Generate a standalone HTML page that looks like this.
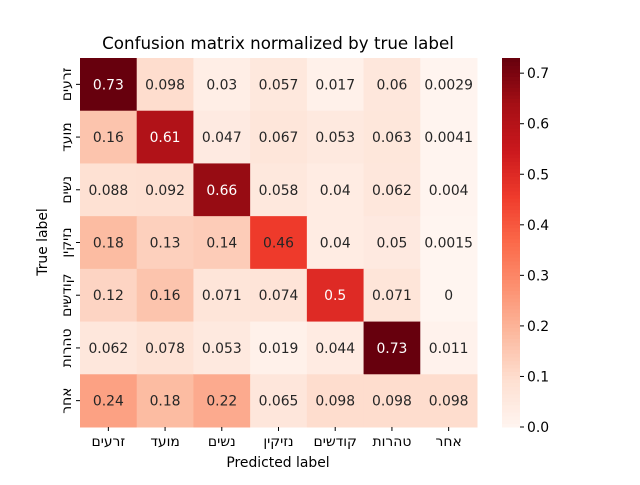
<!DOCTYPE html>
<html><head><meta charset="utf-8"><style>
body{margin:0;background:#fff}
svg text{font-family:"DejaVu Sans","Liberation Sans",sans-serif;font-size:13.9px;fill:#262626}
</style></head><body>
<svg id="chart" width="640" height="480" xmlns="http://www.w3.org/2000/svg">
<rect width="640" height="480" fill="#fff"/>
<text x="278" y="49" text-anchor="middle" style="font-size:16.7px;fill:#000">Confusion matrix normalized by true label</text>
<g id="cells"></g><g id="xt"></g><g id="yt"></g><g id="cb"></g>
<text x="278" y="467" text-anchor="middle" style="fill:#000">Predicted label</text>
<text transform="translate(47,242) rotate(-90)" text-anchor="middle" style="fill:#000">True label</text>
</svg>
<script>
const labels=["זרעים","מועד","נשים","נזיקין","קודשים","טהרות","אחר"];
const row0=[0.73,0.098,0.03,0.057,0.017,0.06,0.0029];
const row1=[0.16,0.61,0.047,0.067,0.053,0.063,0.0041];
const row2=[0.088,0.092,0.66,0.058,0.04,0.062,0.004];
const row3=[0.18,0.13,0.14,0.46,0.04,0.05,0.0015];
const row4=[0.12,0.16,0.071,0.074,0.5,0.071,0];
const row5=[0.062,0.078,0.053,0.019,0.044,0.73,0.011];
const row6=[0.24,0.18,0.22,0.065,0.098,0.098,0.098];
const matrix=[row0,row1,row2,row3,row4,row5,row6];
const cbTicks=[0,0.1,0.2,0.3,0.4,0.5,0.6,0.7];
const NS="http://www.w3.org/2000/svg";
const L=80,R=477,T=58,B=427,n=labels.length;
const cw=(R-L)/n,ch=(B-T)/n;
const vmax=Math.max(...matrix.flat()),vmin=0;
const stops=["#fff5f0","#fee0d2","#fcbba1","#fc9272","#fb6a4a","#ef3b2c","#cb181d","#a50f15","#67000d"].map(h=>[1,3,5].map(i=>parseInt(h.substr(i,2),16)));
function cmap(v){let t=Math.max(0,Math.min(1,(v-vmin)/(vmax-vmin)))*(stops.length-1);let i=Math.min(Math.floor(t),stops.length-2),f=t-i;
 return stops[i].map((a,k)=>Math.round(a+(stops[i+1][k]-a)*f));}
function rgb(c){return `rgb(${c[0]},${c[1]},${c[2]})`}
function mk(tag,attrs,parent){const e=document.createElementNS(NS,tag);for(const k in attrs)e.setAttribute(k,attrs[k]);parent.appendChild(e);return e;}
const xs=i=>L+i*cw, ys=j=>T+j*ch;
const cells=document.getElementById('cells');
matrix.forEach((row,j)=>row.forEach((v,i)=>{
 const c=cmap(v);
 const r=mk('rect',{x:xs(i),y:ys(j),width:cw+0.5,height:ch+0.5,fill:rgb(c)},cells);
 
 
 const lum=(0.299*c[0]+0.587*c[1]+0.114*c[2])/255;
 const t=mk('text',{x:xs(i)+cw/2,y:ys(j)+ch/2+5,'text-anchor':'middle'},cells);
 
 
 if(lum<0.408)t.style.fill='#fff';
 t.textContent=String(v);
}));
const xt=document.getElementById('xt'),yt=document.getElementById('yt');
labels.forEach((lab,i)=>{
 mk('line',{x1:xs(i)+cw/2,x2:xs(i)+cw/2,y1:B,y2:B+4,stroke:'#000'},xt);
 const t=mk('text',{x:xs(i)+cw/2,y:B+19,'text-anchor':'middle'},xt);
 
 
 t.style.fill='#000';t.textContent=lab;
 const y=ys(i)+ch/2;
 mk('line',{x1:L-4,x2:L,y1:y,y2:y,stroke:'#000'},yt);
 const u=mk('text',{transform:`translate(${L-9},${y}) rotate(-90)`,'text-anchor':'middle'},yt);
 
 
 u.style.fill='#000';u.textContent=lab;
});
const cb=document.getElementById('cb');
const CX=502,CW=18;
const cy=v=>B-(v-vmin)/(vmax-vmin)*(B-T);
const N=100;
for(let k=0;k<N;k++){const v0=vmin+(vmax-vmin)*k/N,v1=vmin+(vmax-vmin)*(k+1)/N;
 const r=mk('rect',{x:CX,y:cy(v1),width:CW,height:cy(v0)-cy(v1)+0.5,fill:rgb(cmap((v0+v1)/2))},cb);
 
 }
cbTicks.forEach(v=>{const y=cy(v);
 mk('line',{x1:CX+CW,x2:CX+CW+4,y1:y,y2:y,stroke:'#000'},cb);
 const t=mk('text',{x:CX+CW+7,y:y+5},cb);
 
 
 t.style.fill='#000';t.textContent=v.toFixed(1);});
</script>
</body></html>
